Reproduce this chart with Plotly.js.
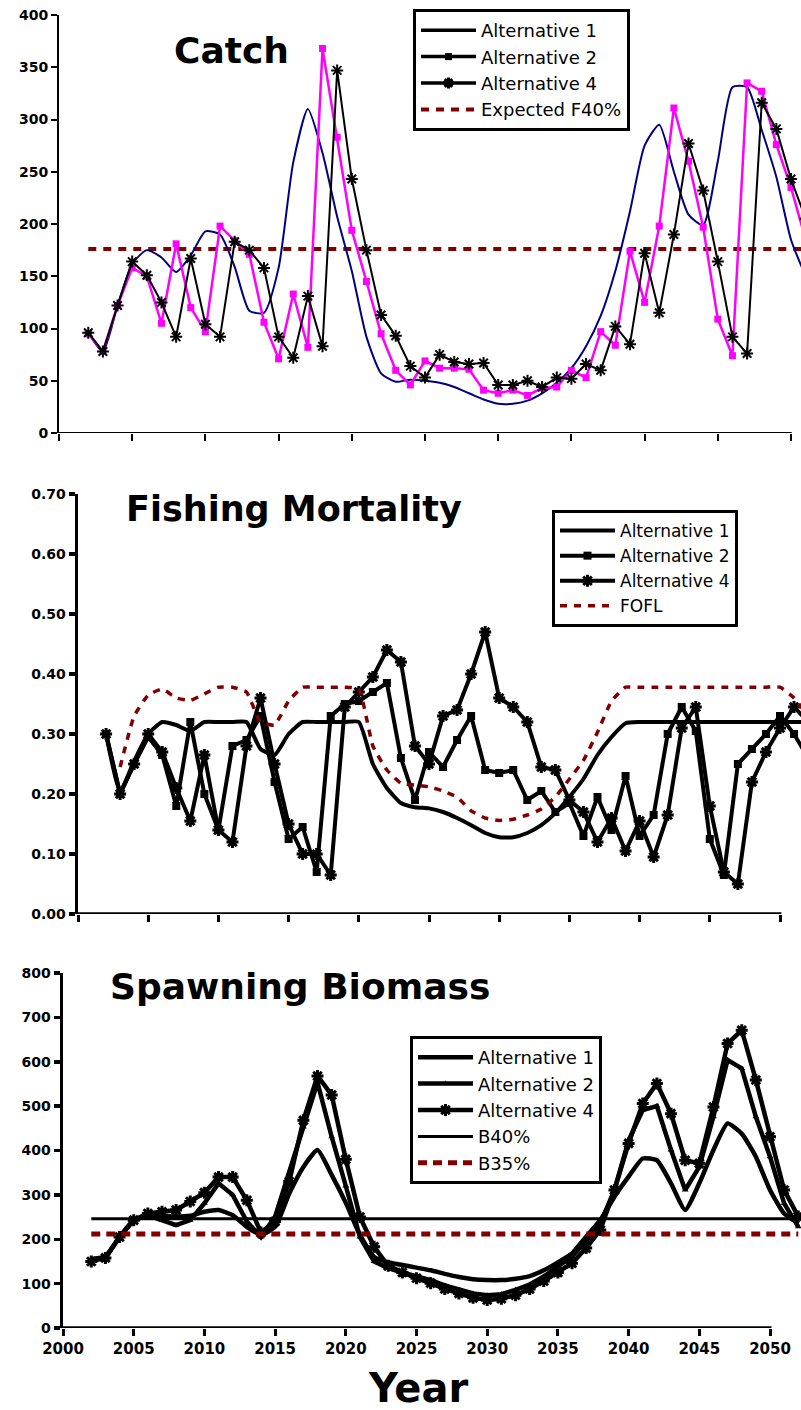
<!DOCTYPE html>
<html><head><meta charset="utf-8">
<script src="https://cdn.plot.ly/plotly-3.0.1.min.js"></script>
<style>html,body{margin:0;padding:0;background:#fff;}#chart{width:801px;height:1410px;}</style>
</head><body><div id="chart"></div>
<script>
// ---------- DATA ----------
const catchYears = [2002,2003,2004,2005,2006,2007,2008,2009,2010,2011,2012,2013,2014,2015,2016,2017,2018,2019,2020,2021,2022,2023,2024,2025,2026,2027,2028,2029,2030,2031,2032,2033,2034,2035,2036,2037,2038,2039,2040,2041,2042,2043,2044,2045,2046,2047,2048,2049,2050,2051];
const catchAlt1 = [96,78,122,162,175,168,154,170,193,190, 159,117,115,158,259,310,268,207,155,92, 57,49,51,50,48,44,38,32,28,28, 31,38,48,62,83,112,155,212,275,295, 250,209,199,260,331,331,290,245,185,150];
const catchAlt2 = [95,78,122,158,150,105,181,120,97,198, 184,171,106,71,133,82,368,283,194,145, 95,60,46,69,62,62,61,41,38,41, 36,43,44,60,53,97,84,174,125,198, 311,260,197,109,74,335,327,276,235,185];
const catchAlt4 = [96,78,122,164,151,125,92,167,104,92, 183,175,158,92,72,131,83,347,243,175, 113,93,64,53,75,68,66,67,46,46, 50,44,53,52,66,60,102,85,172,115, 190,277,232,164,92,76,316,291,243,205];
const catchF40 = 176;

const years = [2002,2003,2004,2005,2006,2007,2008,2009,2010,2011,2012,2013,2014,2015,2016,2017,2018,2019,2020,2021,2022,2023,2024,2025,2026,2027,2028,2029,2030,2031,2032,2033,2034,2035,2036,2037,2038,2039,2040,2041,2042,2043,2044,2045,2046,2047,2048,2049,2050,2051,2052];
const fAlt1 = [0.30,0.205,0.255,0.30,0.32,0.315,0.305,0.32,0.32,0.32, 0.32,0.275,0.265,0.30,0.32,0.32,0.32,0.32,0.32,0.25, 0.21,0.185,0.178,0.176,0.17,0.16,0.148,0.135,0.128,0.128, 0.135,0.148,0.168,0.195,0.225,0.265,0.295,0.318,0.32,0.32, 0.32,0.32,0.32,0.32,0.32,0.32,0.32,0.32,0.32,0.32,0.32];
const fAlt2 = [0.30,0.20,0.25,0.295,0.265,0.18,0.32,0.20,0.14,0.28, 0.29,0.33,0.22,0.125,0.145,0.07,0.33,0.35,0.355,0.37, 0.385,0.26,0.19,0.27,0.245,0.29,0.33,0.24,0.235,0.24, 0.19,0.205,0.17,0.185,0.13,0.195,0.14,0.23,0.13,0.165, 0.30,0.345,0.305,0.125,0.065,0.25,0.275,0.30,0.33,0.30,0.26];
const fAlt4 = [0.30,0.20,0.25,0.30,0.27,0.21,0.155,0.265,0.14,0.12, 0.28,0.36,0.25,0.15,0.10,0.10,0.065,0.345,0.37,0.395, 0.44,0.42,0.28,0.25,0.33,0.34,0.40,0.47,0.36,0.345, 0.32,0.245,0.24,0.19,0.17,0.12,0.16,0.105,0.155,0.095, 0.165,0.31,0.345,0.18,0.07,0.05,0.22,0.27,0.31,0.345,0.32];
const fOFL = [null,0.245,0.33,0.365,0.375,0.36,0.356,0.367,0.378,0.378, 0.37,0.32,0.315,0.355,0.378,0.378,0.378,0.378,0.375,0.28, 0.24,0.218,0.215,0.212,0.205,0.195,0.172,0.16,0.156,0.158, 0.165,0.175,0.195,0.225,0.256,0.303,0.355,0.378,0.378,0.378, 0.378,0.378,0.378,0.378,0.378,0.378,0.378,0.378,0.378,0.36,0.33];

const bAlt1 = [155,160,205,243,252,252,251,253,262,266, 254,228,210,228,303,363,401,345,282,210, 160,148,142,136,130,122,115,110,108,108, 111,117,130,148,168,206,243,296,341,382, 378,326,266,326,401,461,438,386,311,258,236];
const bAlt2 = [155,160,205,243,254,243,232,243,281,326, 300,240,205,251,348,453,553,431,320,205, 150,135,125,117,108,96,86,78,74,76, 86,98,116,138,161,196,236,311,423,491, 500,401,311,363,476,604,585,476,386,281,228];
const bAlt4 = [150,158,205,243,258,262,266,285,305,340, 340,288,215,240,330,468,568,525,380,250, 183,140,125,112,101,88,78,68,63,66, 74,88,106,125,146,180,221,311,416,506, 551,483,378,371,498,641,671,559,431,311,251];
const B40 = 246;
const B35 = 212;

const xTicks = [2000,2005,2010,2015,2020,2025,2030,2035,2040,2045,2050];

// ---------- STYLE ----------
const RED = '#800000';
const W = 801, H = 1410;
const FONT = 'DejaVu Sans, Liberation Sans, Arial, sans-serif';
const tickFont = {family: FONT, size: 14, color: '#000', weight: 700};

const traces = [];
// Panel 1: Catch
traces.push({x: catchYears, y: catchYears.map(() => catchF40), xaxis:'x', yaxis:'y', mode:'lines', line:{color:RED, width:4, dash:'8px,7px'}, showlegend:false, hoverinfo:'skip'});
traces.push({x: catchYears, y: catchAlt1, xaxis:'x', yaxis:'y', mode:'lines', line:{color:'#000080', width:2, shape:'spline', smoothing:0.6}, showlegend:false});
traces.push({x: catchYears, y: catchAlt2, xaxis:'x', yaxis:'y', mode:'lines+markers', line:{color:'#ff00ff', width:2.5}, marker:{symbol:'square', size:7, color:'#ff00ff'}, showlegend:false});
traces.push({x: catchYears, y: catchAlt4, xaxis:'x', yaxis:'y', mode:'lines+markers', line:{color:'#000', width:2}, marker:{symbol:'asterisk-open', size:10, color:'#000', line:{color:'#000', width:2}}, showlegend:false});
// legend entries for panel 1 (drawn black as in the original)
traces.push({x:[null], y:[null], xaxis:'x', yaxis:'y', mode:'lines', name:'Alternative 1', line:{color:'#000', width:3.5}, legend:'legend'});
traces.push({x:[null], y:[null], xaxis:'x', yaxis:'y', mode:'lines+markers', name:'Alternative 2', line:{color:'#000', width:3.5}, marker:{symbol:'square', size:7, color:'#000'}, legend:'legend'});
traces.push({x:[null], y:[null], xaxis:'x', yaxis:'y', mode:'lines+markers', name:'Alternative 4', line:{color:'#000', width:3.5}, marker:{symbol:'asterisk-open', size:9, line:{color:'#000', width:3}}, legend:'legend'});
traces.push({x:[null], y:[null], xaxis:'x', yaxis:'y', mode:'lines', name:'Expected F40%', line:{color:RED, width:4, dash:'8px,7px'}, legend:'legend'});

// Panel 2: Fishing Mortality
traces.push({x: years, y: fAlt1, xaxis:'x2', yaxis:'y2', mode:'lines', name:'Alternative 1', line:{color:'#000', width:4, shape:'spline', smoothing:0.5}, legend:'legend2'});
traces.push({x: years, y: fAlt2, xaxis:'x2', yaxis:'y2', mode:'lines+markers', name:'Alternative 2', line:{color:'#000', width:4}, marker:{symbol:'square', size:8, color:'#000'}, legend:'legend2'});
traces.push({x: years, y: fAlt4, xaxis:'x2', yaxis:'y2', mode:'lines+markers', name:'Alternative 4', line:{color:'#000', width:4}, marker:{symbol:'asterisk-open', size:10, line:{color:'#000', width:3}}, legend:'legend2'});
traces.push({x: years, y: fOFL, xaxis:'x2', yaxis:'y2', mode:'lines', name:'FOFL', line:{color:RED, width:3.5, dash:'7px,7px', shape:'spline', smoothing:0.4}, legend:'legend2'});

// Panel 3: Spawning Biomass
traces.push({x: years, y: bAlt1, xaxis:'x3', yaxis:'y3', mode:'lines', name:'Alternative 1', line:{color:'#000', width:4.5, shape:'spline', smoothing:0.5}, legend:'legend3'});
traces.push({x: years, y: bAlt2, xaxis:'x3', yaxis:'y3', mode:'lines+markers', name:'Alternative 2', line:{color:'#000', width:4.5}, marker:{symbol:'triangle-up', size:6, color:'#000'}, legend:'legend3'});
traces.push({x: years, y: bAlt4, xaxis:'x3', yaxis:'y3', mode:'lines+markers', name:'Alternative 4', line:{color:'#000', width:4.5}, marker:{symbol:'asterisk-open', size:10, line:{color:'#000', width:3}}, legend:'legend3'});
traces.push({x: years, y: years.map(() => B40), xaxis:'x3', yaxis:'y3', mode:'lines', name:'B40%', line:{color:'#000', width:3}, legend:'legend3'});
traces.push({x: years, y: years.map(() => B35), xaxis:'x3', yaxis:'y3', mode:'lines', name:'B35%', line:{color:RED, width:5, dash:'9px,6px'}, legend:'legend3'});

function xa(left, pxPerYear, labels, lw) {
  return {domain:[left/W, 1], range:[2000, 2000 + (W-left)/pxPerYear], tickmode:'array', tickvals:xTicks,
    ticktext:xTicks.map(String), showticklabels:labels, ticks:'outside', ticklen:7, tickwidth:lw, tickcolor:'#000',
    showline:false, zeroline:false, showgrid:false, tickfont:{family:FONT, size:15, color:'#000', weight:700}, fixedrange:true};
}
function ya(top, bottom, range, dtick, fmt, lw, anchor) {
  return {domain:[1-bottom/H, 1-top/H], range:range, dtick:dtick, tick0:0, tickformat:fmt, ticks:'outside', ticklen:6, tickwidth:lw,
    tickcolor:'#000', showline:true, linewidth:lw, linecolor:'#000', zeroline:false, showgrid:false, tickfont:tickFont, anchor:anchor, fixedrange:true};
}

const legendBase = {bgcolor:'#fff', bordercolor:'#000', borderwidth:3, xanchor:'left', yanchor:'top', itemwidth:55, tracegroupgap:0};

const layout = {
  width: W, height: H, margin:{l:0, r:0, t:0, b:0}, paper_bgcolor:'#fff', plot_bgcolor:'#fff',
  font:{family:FONT, color:'#000'},
  xaxis: Object.assign(xa(59, 14.64, false, 2), {anchor:'y'}),
  yaxis: ya(15, 433, [0, 400], 50, 'd', 2, 'x'),
  xaxis2: Object.assign(xa(78, 14.04, false, 3), {anchor:'y2'}),
  yaxis2: ya(494, 914, [0, 0.7], 0.1, '.2f', 3.5, 'x2'),
  xaxis3: Object.assign(xa(63, 14.14, true, 3), {anchor:'y3'}),
  yaxis3: ya(973, 1328, [0, 800], 100, 'd', 3.5, 'x3'),
  legend: Object.assign({}, legendBase, {x:413/W, y:1-9/H, font:{family:FONT, size:18, color:'#000'}}),
  legend2: Object.assign({}, legendBase, {x:552/W, y:1-510/H, font:{family:FONT, size:17, color:'#000'}}),
  legend3: Object.assign({}, legendBase, {x:410/W, y:1-1036/H, font:{family:FONT, size:18, color:'#000'}}),
  shapes: [
    {type:'line', xref:'x', yref:'y', x0:2000, x1:2050.05, y0:0, y1:0, line:{color:'#000', width:2}, layer:'above'},
    {type:'line', xref:'x2', yref:'y2', x0:2000, x1:2050.1, y0:0, y1:0, line:{color:'#000', width:3.5}, layer:'above'},
    {type:'line', xref:'x3', yref:'y3', x0:2000, x1:2050.1, y0:0, y1:0, line:{color:'#000', width:3.5}, layer:'above'}
  ],
  annotations: [
    {text:'<b>Catch</b>', xref:'paper', yref:'paper', x:231/W, y:1-51/H, xanchor:'center', yanchor:'middle', showarrow:false, font:{family:FONT, size:36, color:'#000'}},
    {text:'<b>Fishing Mortality</b>', xref:'paper', yref:'paper', x:294/W, y:1-509/H, xanchor:'center', yanchor:'middle', showarrow:false, font:{family:FONT, size:35, color:'#000'}},
    {text:'<b>Spawning Biomass</b>', xref:'paper', yref:'paper', x:300/W, y:1-987/H, xanchor:'center', yanchor:'middle', showarrow:false, font:{family:FONT, size:36, color:'#000'}},
    {text:'<b>Year</b>', xref:'paper', yref:'paper', x:418/W, y:1-1388/H, xanchor:'center', yanchor:'middle', showarrow:false, font:{family:FONT, size:40, color:'#000'}}
  ]
};

function stretchLegendSymbols() {
  document.querySelectorAll('g.legendlines path').forEach(function(p){
    var d = p.getAttribute('d') || '';
    if (/^M5,0h30/.test(d) || /h30$/.test(d)) p.setAttribute('d', 'M4,0h54');
  });
  document.querySelectorAll('g.legendpoints path').forEach(function(p){
    var t = p.getAttribute('transform') || '';
    if (t.indexOf('translate(20') === 0) p.setAttribute('transform', t.replace('translate(20', 'translate(31'));
  });
}

Plotly.newPlot('chart', traces, layout, {displayModeBar:false, staticPlot:true}).then(function(){
  stretchLegendSymbols();
  setTimeout(stretchLegendSymbols, 50);
});
</script>
</body></html>
